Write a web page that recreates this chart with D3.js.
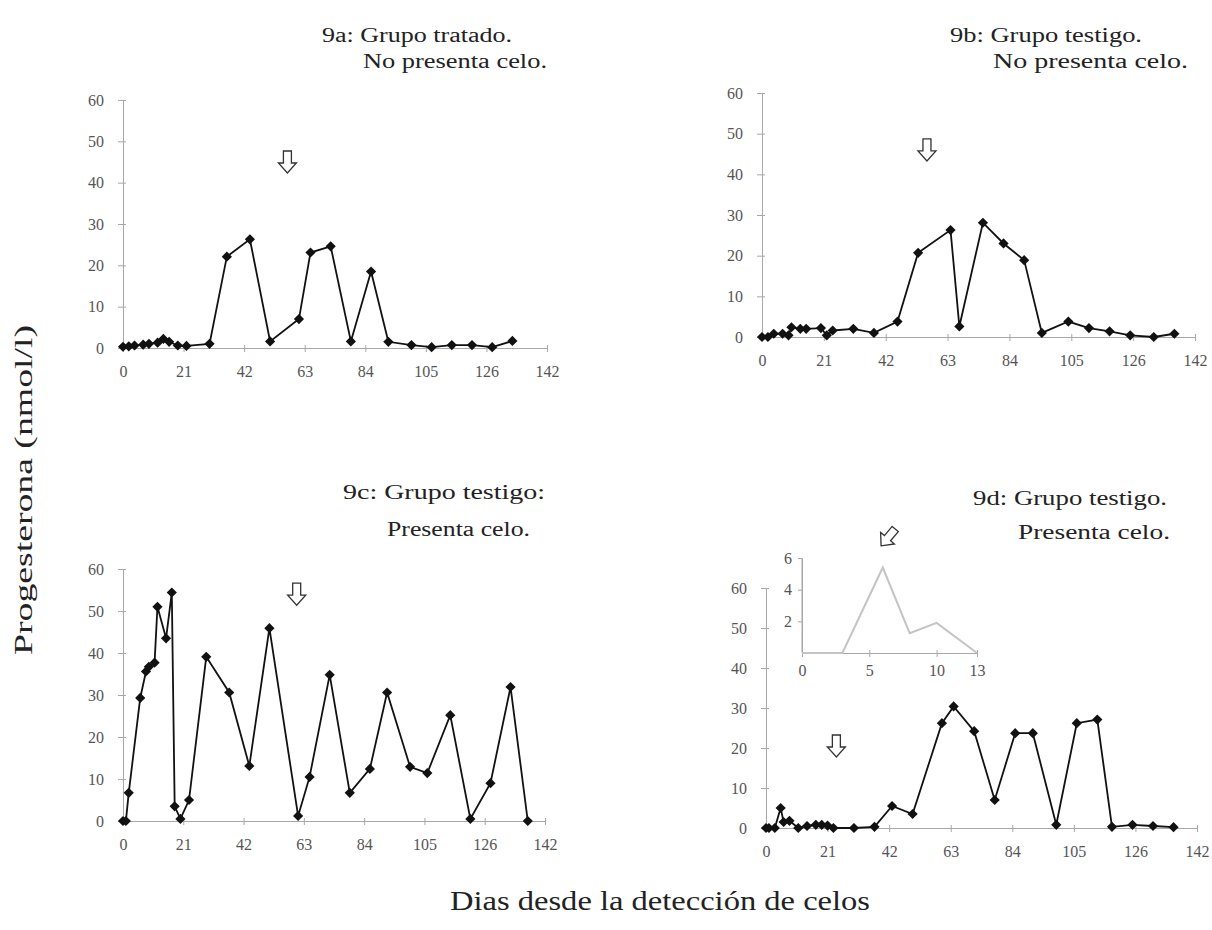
<!DOCTYPE html>
<html>
<head>
<meta charset="utf-8">
<script src="https://cdn.jsdelivr.net/npm/d3@7"></script>
<style>
  body { margin: 0; background: #fff; }
  svg { display: block; }
</style>
</head>
<body>
<svg id="chart"></svg>
<script>
// Progesterone (nmol/l) against days since heat detection
const days9a = [0, 2, 4, 7, 9, 12, 14, 16, 19, 22, 30, 36, 44, 51, 61, 65, 72, 79, 86, 92, 100, 107, 114, 121, 128, 135];
const prog9a = [0.3, 0.4, 0.6, 0.8, 1.0, 1.3, 2.2, 1.5, 0.6, 0.5, 1.0, 22.1, 26.3, 1.6, 7.0, 23.1, 24.6, 1.6, 18.5, 1.5, 0.7, 0.2, 0.7, 0.7, 0.2, 1.7];

const days9b = [0, 2, 4, 7, 9, 10, 13, 15, 20, 22, 24, 31, 38, 46, 53, 64, 67, 75, 82, 89, 95, 104, 111, 118, 125, 133, 140];
const prog9b = [0, 0, 0.8, 0.8, 0.4, 2.4, 2, 2, 2.2, 0.4, 1.6, 2, 1, 3.8, 20.7, 26.3, 2.6, 28.1, 23, 18.9, 1, 3.8, 2.2, 1.4, 0.4, 0, 0.8];

const days9c = [0, 1, 2, 6, 8, 9, 11, 12, 15, 17, 18, 20, 23, 29, 37, 44, 51, 61, 65, 72, 79, 86, 92, 100, 106, 114, 121, 128, 135, 141];
const prog9c = [0, 0, 6.7, 29.3, 35.6, 36.7, 37.7, 51, 43.5, 54.4, 3.5, 0.5, 5, 39.1, 30.6, 13.1, 45.9, 1.2, 10.5, 34.8, 6.7, 12.4, 30.6, 12.9, 11.4, 25.2, 0.5, 9.0, 31.9, 0];

const days9d = [0, 1, 3, 5, 6, 8, 11, 14, 17, 19, 21, 23, 30, 37, 43, 50, 60, 64, 71, 78, 85, 91, 99, 106, 113, 118, 125, 132, 139];
const prog9d = [0, 0, 0, 5, 1.5, 1.8, 0, 0.5, 0.8, 0.8, 0.6, 0, 0, 0.3, 5.5, 3.5, 26.2, 30.4, 24.2, 7, 23.7, 23.7, 0.8, 26.2, 27.1, 0.3, 0.8, 0.5, 0.2];

// inset of 9d: first days in detail
const insetDays = [0, 3, 6, 8, 10, 13];
const insetProg = [0, 0, 5.4, 1.25, 1.9, 0];

// ticks
const xTicks = [0, 21, 42, 63, 84, 105, 126, 147];
const xTickLabels = ["0", "21", "42", "63", "84", "105", "126", "142"];
const yTicks = [0, 10, 20, 30, 40, 50, 60];
const insetXTicks = [0, 5, 10, 13];
const insetYTicks = [2, 4, 6];

const titles9a = ["9a: Grupo tratado.", "No presenta celo."];
const titles9b = ["9b: Grupo testigo.", "No presenta celo."];
const titles9c = ["9c: Grupo testigo:", "Presenta celo."];
const titles9d = ["9d: Grupo testigo.", "Presenta celo."];

const yTitle = "Progesterona (nmol/l)";
const xTitle = "Dias desde la detección de celos";

// layout of the four panels; t = [x, baseline, width] for each title line
const panels = [
  { days: days9a, prog: prog9a, titles: titles9a, x0: 123, x1: 547, y0: 348, y1: 100,
    t: [[322, 42, 190], [363, 68, 184]], arrow: [57, 45] },
  { days: days9b, prog: prog9b, titles: titles9b, x0: 762, x1: 1195, y0: 337, y1: 93,
    t: [[950, 42, 192], [993, 68, 195]], arrow: [56, 46] },
  { days: days9c, prog: prog9c, titles: titles9c, x0: 123, x1: 545, y0: 821, y1: 569,
    t: [[343, 499, 202], [387, 536, 143]], arrow: [60.5, 54] },
  { days: days9d, prog: prog9d, titles: titles9d, x0: 766, x1: 1197, y0: 828, y1: 588,
    t: [[973, 505, 194], [1018, 539, 152]], arrow: [24, 20.5] }
];

const font = "'Liberation Serif', 'Times New Roman', serif";
const axisColor = '#a8a8a8';
const labelColor = '#555';

const svg = d3.select('#chart').
attr('width', 1212).
attr('height', 930).
attr('font-family', font);

svg.append('rect').
attr('width', 1212).
attr('height', 930).
attr('fill', '#fff');

// hollow "down" arrow used to mark the treatment day
const arrowPath = 'M-4,-11 L4,-11 L4,1 L9,1 L0,11 L-9,1 L-4,1 Z';

function styleAxis(g, size) {
  g.select('.domain').attr('stroke', axisColor);
  g.selectAll('.tick line').attr('stroke', axisColor);
  g.selectAll('.tick text').
  attr('fill', labelColor).
  attr('font-size', size).
  attr('font-family', font);
}

panels.forEach(p => {
  const x = d3.scaleLinear().domain([0, 147]).range([p.x0, p.x1]);
  const y = d3.scaleLinear().domain([0, 60]).range([p.y0, p.y1]);

  const g = svg.append('g');

  // Y axis, ticks cross the line
  g.append('g').
  attr('transform', `translate(${p.x0}, 0)`).
  call(d3.axisLeft(y).tickValues(yTicks).tickSizeInner(5).tickSizeOuter(0).tickPadding(14)).
  call(a => styleAxis(a, 16)).
  call(a => a.selectAll('.tick line').attr('x1', 3));

  // X axis
  g.append('g').
  attr('transform', `translate(0, ${p.y0})`).
  call(d3.axisBottom(x).tickValues(xTicks).tickSizeInner(4).tickSizeOuter(0).tickPadding(14).
  tickFormat((d, i) => xTickLabels[i])).
  call(a => styleAxis(a, 16)).
  call(a => a.selectAll('.tick line').attr('y1', -3));

  // the series
  const pts = p.days.map((d, i) => [d, p.prog[i]]);
  g.append('path').
  datum(pts).
  attr('fill', 'none').
  attr('stroke', '#111').
  attr('stroke-width', 1.8).
  attr('d', d3.line().x(d => x(d[0])).y(d => y(d[1])));

  g.selectAll('.pt').
  data(pts).
  enter().append('path').
  attr('class', 'pt').
  attr('d', d3.symbol(d3.symbolSquare, 52)).
  attr('fill', '#111').
  attr('transform', d => `translate(${x(d[0])}, ${y(d[1])}) rotate(45)`);

  // arrow
  g.append('path').
  attr('d', arrowPath).
  attr('fill', '#fff').
  attr('stroke', '#333').
  attr('stroke-width', 1.3).
  attr('transform', `translate(${x(p.arrow[0])}, ${y(p.arrow[1])})`);

  // two title lines
  p.t.forEach((t, i) => {
    g.append('text').
    attr('x', t[0]).
    attr('y', t[1]).
    attr('font-size', 20).
    attr('fill', '#222').
    attr('textLength', t[2]).
    attr('lengthAdjust', 'spacingAndGlyphs').
    text(p.titles[i]);
  });
});

// inset in 9d
const ix = d3.scaleLinear().domain([0, 13]).range([802, 977]);
const iy = d3.scaleLinear().domain([0, 6]).range([653, 558]);
const inset = svg.append('g');

inset.append('g').
attr('transform', 'translate(802, 0)').
call(d3.axisLeft(iy).tickValues(insetYTicks).tickFormat(d3.format('d')).tickSizeInner(4).tickSizeOuter(0).tickPadding(6)).
call(a => styleAxis(a, 16));

inset.append('line').
attr('x1', 802).attr('x2', 802).
attr('y1', iy(0)).attr('y2', iy(6)).
attr('stroke', axisColor);

inset.append('g').
attr('transform', 'translate(0, 653)').
call(d3.axisBottom(ix).tickValues(insetXTicks).tickSizeInner(4).tickSizeOuter(0).tickPadding(8)).
call(a => styleAxis(a, 16)).
call(a => a.selectAll('.tick line').attr('y1', -3));

inset.append('path').
datum(insetDays.map((d, i) => [d, insetProg[i]])).
attr('fill', 'none').
attr('stroke', '#c4c4c4').
attr('stroke-width', 2).
attr('d', d3.line().x(d => ix(d[0])).y(d => iy(d[1])));

inset.append('path').
attr('d', arrowPath).
attr('fill', '#fff').
attr('stroke', '#333').
attr('stroke-width', 1.3).
attr('transform', `translate(${ix(6.4)}, ${iy(7.3)}) rotate(40)`);

// shared axis titles
svg.append('text').
attr('transform', 'translate(32, 490) rotate(-90)').
attr('text-anchor', 'middle').
attr('font-size', 25).
attr('fill', '#222').
attr('textLength', 330).
attr('lengthAdjust', 'spacingAndGlyphs').
text(yTitle);

svg.append('text').
attr('x', 660).
attr('y', 910).
attr('text-anchor', 'middle').
attr('font-size', 27).
attr('fill', '#222').
attr('textLength', 420).
attr('lengthAdjust', 'spacingAndGlyphs').
text(xTitle);
</script>
</body>
</html>
